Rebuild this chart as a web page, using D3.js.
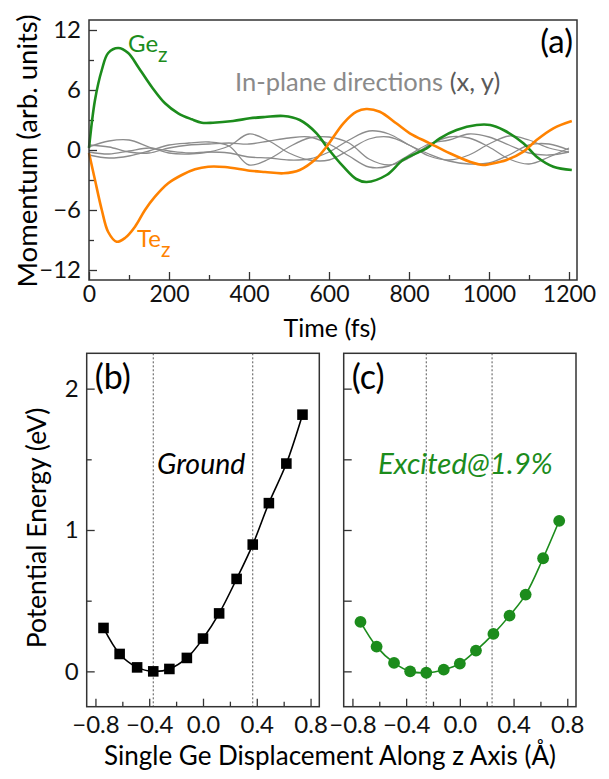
<!DOCTYPE html>
<html>
<head>
<meta charset="utf-8">
<script src="https://cdn.jsdelivr.net/npm/d3@7"></script>
<style>
  body { margin: 0; background: #fff; }
  text { font-family: Lato, "Open Sans", sans-serif; }
</style>
</head>
<body>
<svg id="fig" width="609" height="779"></svg>
<script>
// ---- panel (a) data: momentum vs time ----
var geTime = [0, 15, 32, 48, 73, 98, 123, 157, 190, 223, 257, 282, 310, 360, 402, 440, 486, 527, 569, 594, 636, 668, 694, 744, 785, 827, 844, 877, 919, 969, 1003, 1036, 1086, 1119, 1161, 1207];
var geVal  = [0.2, 5.0, 8.0, 9.7, 10.2, 9.7, 8.3, 6.3, 4.67, 3.67, 3.07, 2.73, 2.73, 2.9, 3.17, 3.3, 3.4, 3.0, 1.67, 0.33, -1.67, -2.9, -3.2, -2.5, -1.0, -0.17, 0.17, 1.17, 2.0, 2.5, 2.5, 2.0, 0.67, -0.67, -1.67, -2.0];
var teTime = [0, 15, 32, 48, 69, 90, 115, 140, 165, 198, 232, 265, 298, 340, 402, 440, 486, 527, 569, 594, 636, 669, 693, 727, 768, 802, 852, 902, 952, 985, 1002, 1044, 1086, 1119, 1161, 1207];
var teVal  = [-0.3, -3.0, -6.0, -8.2, -9.17, -8.8, -7.67, -6.0, -4.67, -3.33, -2.5, -1.93, -1.67, -1.7, -2.07, -2.2, -2.33, -2.0, -0.83, 0.33, 2.67, 3.83, 4.1, 3.83, 2.67, 1.67, 0.67, -0.33, -1.17, -1.5, -1.4, -1.0, -0.17, 1.0, 2.17, 2.9];
// in-plane (x, y) components, sampled every 50 fs
var inTime = [0, 50, 100, 150, 200, 250, 300, 350, 400, 450, 500, 550, 600, 650, 700, 750, 800, 850, 900, 950, 1000, 1050, 1100, 1150, 1200];
var in1 = [0.3, 0.9, 1.0, 0.3, -0.3, -0.4, -0.2, 0.4, 1.6, 0.9, -0.3, -1.0, -1.0, 0.0, 1.1, 1.3, 0.5, -0.6, -1.0, -0.5, 0.6, 1.4, 1.0, 0.2, -0.2];
var in2 = [-0.5, -0.8, -0.6, -0.1, 0.5, 0.7, 0.8, 0.4, -1.5, -0.9, 0.3, 1.2, 1.3, 0.7, -0.9, -1.5, -0.8, 0.5, 1.3, 1.2, 0.3, -0.9, -1.4, -0.7, 0.2];
var in3 = [0.5, 0.3, -0.2, -0.3, 0.2, 0.5, 0.6, 0.7, 0.6, 0.9, 1.2, 1.3, 0.6, -0.6, -1.7, -1.6, -0.5, 0.6, 1.0, 1.6, 1.3, 0.5, -0.3, -0.5, -0.2];
var in4 = [-0.2, -0.4, -0.1, 0.2, -0.1, -0.3, -0.2, -0.3, -0.7, -0.8, -1.0, -0.9, -0.2, 1.0, 1.9, 1.6, 0.5, -0.4, -1.1, -1.4, -1.3, -0.5, 0.5, 0.6, 0.0];
var timeTicks = [0, 200, 400, 600, 800, 1000, 1200];
var momTicks = [-12, -6, 0, 6, 12];

// ---- panels (b), (c): potential energy vs displacement ----
var disp = [-0.74, -0.62, -0.49, -0.37, -0.25, -0.12, 0.0, 0.12, 0.25, 0.37, 0.49, 0.62, 0.74];
var eGround  = [0.307, 0.123, 0.028, 0.0, 0.017, 0.095, 0.232, 0.41, 0.654, 0.897, 1.19, 1.47, 1.816];
var eExcited = [0.35, 0.175, 0.06, 0.0, -0.01, 0.012, 0.055, 0.147, 0.265, 0.394, 0.543, 0.80, 1.065];
var groundMarks = [-0.37, 0.37];
var excitedMarks = [-0.25, 0.24];
var dispTicks = [-0.8, -0.4, 0.0, 0.4, 0.8];
var energyTicks = [0, 1, 2];

var green = "#1c8c1c", orange = "#ff8200", grey = "#8c8c8c", frame = "#333";
var svg = d3.select("#fig");

function zip(a, b) { return a.map(function(d, i) { return [d, b[i]]; }); }

// ================= panel (a) =================
var xa = d3.scaleLinear().domain([0, 1220]).range([89, 577]);
var ya = d3.scaleLinear().domain([-13, 13]).range([280, 20]);
var ga = svg.append("g");

ga.append("g").attr("class", "xa").attr("transform", "translate(0,280)")
  .call(d3.axisBottom(xa).tickValues(timeTicks).tickSize(-8).tickPadding(6).tickFormat(d3.format("d")));
ga.append("g").attr("transform", "translate(0,280)")
  .call(d3.axisBottom(xa).tickValues(d3.range(100, 1220, 200)).tickSize(-5).tickFormat(""));
ga.append("g").attr("transform", "translate(89,0)")
  .call(d3.axisLeft(ya).tickValues(momTicks).tickSize(-8).tickPadding(8));
ga.append("g").attr("transform", "translate(89,0)")
  .call(d3.axisLeft(ya).tickValues([-9, -3, 3, 9]).tickSize(-5).tickFormat(""));

var lineA = d3.line().x(function(d) { return xa(d[0]); }).y(function(d) { return ya(d[1]); })
  .curve(d3.curveCatmullRom.alpha(0.5));
[in1, in2, in3, in4].forEach(function(s) {
  ga.append("path").datum(zip(inTime, s)).attr("d", lineA)
    .attr("fill", "none").attr("stroke", grey).attr("stroke-width", 1.3);
});
ga.append("path").datum(zip(geTime, geVal)).attr("d", lineA)
  .attr("fill", "none").attr("stroke", green).attr("stroke-width", 2.6);
ga.append("path").datum(zip(teTime, teVal)).attr("d", lineA)
  .attr("fill", "none").attr("stroke", orange).attr("stroke-width", 2.6);

ga.append("rect").attr("x", 89).attr("y", 20).attr("width", 488).attr("height", 260)
  .attr("fill", "none").attr("stroke", frame).attr("stroke-width", 1.5);

ga.append("text").attr("x", 573).attr("y", 53).attr("text-anchor", "end")
  .attr("font-size", 33).text("(a)");
var geLab = ga.append("text").attr("x", 128).attr("y", 52).attr("font-size", 24).attr("fill", green);
geLab.append("tspan").text("Ge");
geLab.append("tspan").attr("dy", 10).attr("font-size", 21).text("z");
var teLab = ga.append("text").attr("x", 137).attr("y", 247).attr("font-size", 24).attr("fill", orange);
teLab.append("tspan").text("Te");
teLab.append("tspan").attr("dy", 10).attr("font-size", 21).text("z");
var inLab = ga.append("text").attr("x", 235).attr("y", 91).attr("font-size", 25.5).attr("fill", "#8a8a8a");
inLab.append("tspan").text("In-plane directions ");
inLab.append("tspan").attr("fill", "#5a5a5a").text("(x, y)");

ga.append("text").attr("x", 330).attr("y", 337).attr("text-anchor", "middle")
  .attr("font-size", 25).text("Time (fs)");
ga.append("text").attr("transform", "translate(37,151) rotate(-90)").attr("text-anchor", "middle")
  .attr("font-size", 27.5).text("Momentum (arb. units)");

// ================= panels (b), (c) =================
var ye = d3.scaleLinear().domain([-0.25, 2.25]).range([706.7, 353.3]);

function energyPanel(left, right, values, marks, color, symbol, label, tag, showY) {
  var x = d3.scaleLinear().domain([-0.865, 0.865]).range([left, right]);
  var g = svg.append("g");
  g.append("g").attr("transform", "translate(0,706.7)")
    .call(d3.axisBottom(x).tickValues(dispTicks).tickSize(-8).tickPadding(9).tickFormat(d3.format(".1f")));
  g.append("g").attr("transform", "translate(0,706.7)")
    .call(d3.axisBottom(x).tickValues([-0.6, -0.2, 0.2, 0.6]).tickSize(-5).tickFormat(""));
  g.append("g").attr("transform", "translate(" + left + ",0)")
    .call(d3.axisLeft(ye).tickValues(energyTicks).tickSize(-8).tickPadding(8)
      .tickFormat(showY ? d3.format("d") : ""));
  g.append("g").attr("transform", "translate(" + left + ",0)")
    .call(d3.axisLeft(ye).tickValues([0.5, 1.5]).tickSize(showY ? -5 : -8).tickFormat(""));

  g.selectAll("line.mark").data(marks).enter().append("line").attr("class", "mark")
    .attr("x1", function(d) { return x(d); }).attr("x2", function(d) { return x(d); })
    .attr("y1", 353.3).attr("y2", 706.7)
    .attr("stroke", "#555").attr("stroke-width", 1).attr("stroke-dasharray", "2,2");

  var pts = zip(disp, values);
  g.append("path").datum(pts)
    .attr("d", d3.line().x(function(d) { return x(d[0]); }).y(function(d) { return ye(d[1]); })
      .curve(d3.curveCatmullRom.alpha(0.5)))
    .attr("fill", "none").attr("stroke", color).attr("stroke-width", 1.6);
  g.selectAll("path.sym").data(pts).enter().append("path").attr("class", "sym")
    .attr("transform", function(d) { return "translate(" + x(d[0]) + "," + ye(d[1]) + ")"; })
    .attr("d", d3.symbol().type(symbol).size(symbol === d3.symbolSquare ? 112 : 110))
    .attr("fill", color);

  g.append("rect").attr("x", left).attr("y", 353.3).attr("width", right - left).attr("height", 353.4)
    .attr("fill", "none").attr("stroke", frame).attr("stroke-width", 1.5);

  g.append("text").attr("x", left + 8).attr("y", 389).attr("font-size", 34).text(tag);
  g.append("text").attr("x", label.x).attr("y", 474).attr("font-size", label.size)
    .attr("font-style", "italic").attr("fill", color).text(label.text);
  return g;
}

energyPanel(86.7, 319.3, eGround, groundMarks, "#000", d3.symbolSquare,
  { x: 157, text: "Ground", size: 28.5 }, "(b)", true);
energyPanel(343.7, 576, eExcited, excitedMarks, green, d3.symbolCircle,
  { x: 378, text: "Excited@1.9%", size: 29.5 }, "(c)", false);

svg.append("text").attr("transform", "translate(46,528) rotate(-90)").attr("text-anchor", "middle")
  .attr("font-size", 26.5).text("Potential Energy (eV)");
svg.append("text").attr("x", 330).attr("y", 765).attr("text-anchor", "middle")
  .attr("font-size", 26).text("Single Ge Displacement Along z Axis (Å)");

// axis styling
svg.selectAll(".domain").remove();
svg.selectAll(".tick line").attr("stroke", frame).attr("stroke-width", 1.3);
svg.selectAll(".tick text").attr("font-size", 24).attr("fill", "#111")
  .style("font-family", "Lato, 'Open Sans', sans-serif");
svg.selectAll(".xa .tick text").attr("font-size", 23);
</script>
</body>
</html>
